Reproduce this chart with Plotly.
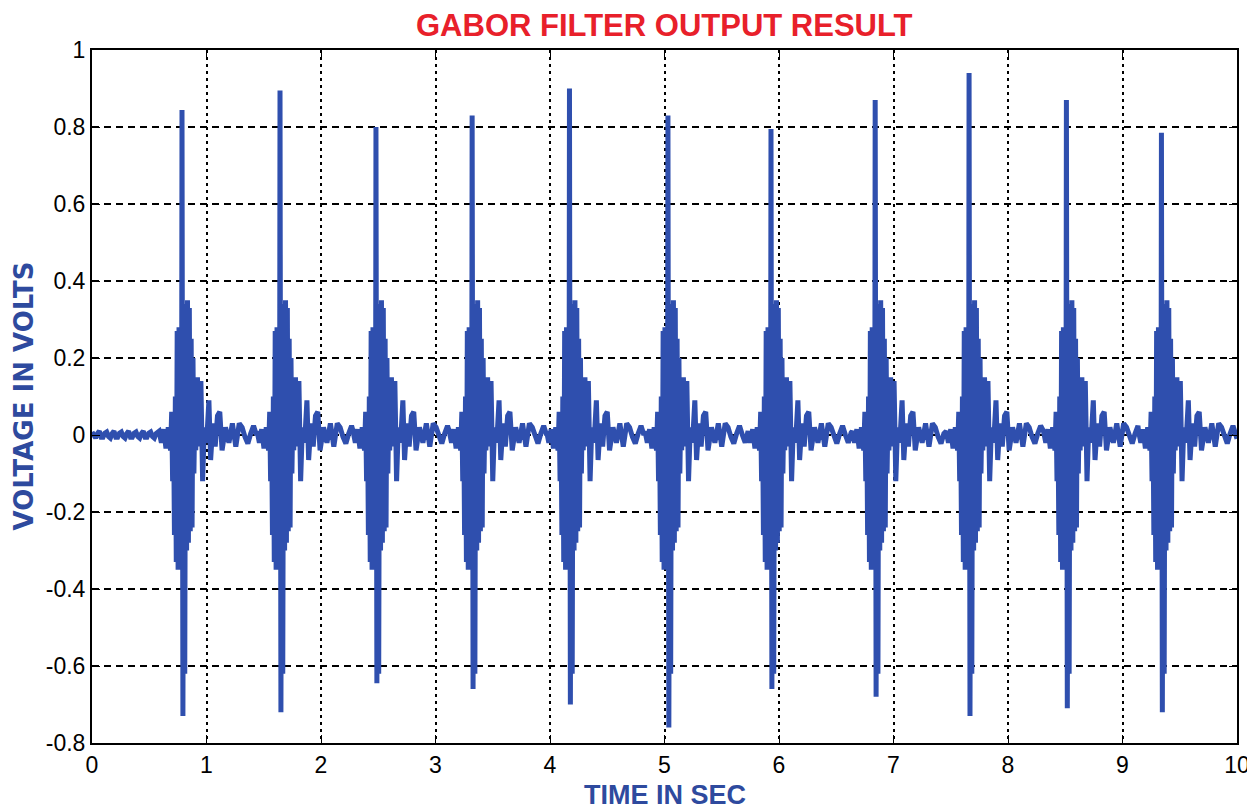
import plotly.graph_objects as go

# Main spike of each beat
beat_times = [0.786, 1.642, 2.48, 3.32, 4.17, 5.03, 5.93, 6.84, 7.66, 8.51, 9.34]
beat_peaks = [0.844, 0.895, 0.80, 0.83, 0.90, 0.83, 0.795, 0.87, 0.94, 0.87, 0.785]
beat_troughs = [-0.73, -0.72, -0.645, -0.66, -0.70, -0.76, -0.66, -0.68, -0.73, -0.71, -0.72]

# Shape of one burst around its main spike (offset in s, value in V)
burst_offsets = [-0.20, -0.18, -0.16, -0.14, -0.12, -0.10, -0.09, -0.082, -0.074, -0.066,
                 -0.058, -0.050, -0.042, -0.034, -0.026, -0.018, -0.010, -0.004, 0.000, 0.008,
                 0.016, 0.024, 0.032, 0.040, 0.048, 0.056, 0.064, 0.072, 0.080, 0.088,
                 0.096, 0.104, 0.112, 0.120, 0.135, 0.150, 0.165, 0.180, 0.195, 0.215,
                 0.235, 0.250, 0.270, 0.290, 0.310, 0.330, 0.350, 0.380, 0.410, 0.440,
                 0.470, 0.500]
burst_values = [0.01, -0.02, 0.015, -0.035, 0.02, -0.04, 0.06, -0.12, 0.06, -0.26,
                0.10, -0.33, 0.27, -0.35, 0.28, -0.30, 0.22, -0.20, 0.85, -0.73,
                0.30, -0.62, 0.34, -0.30, 0.35, -0.28, 0.33, -0.25, 0.25, -0.24,
                0.20, -0.10, 0.06, -0.04, 0.15, -0.03, 0.14, -0.12, 0.02, -0.02,
                0.09, -0.065, 0.03, -0.03, 0.05, 0.06, -0.04, 0.02, -0.02, 0.03,
                -0.03, 0.03]
PEAK_IDX, TROUGH_IDX = 18, 19

# Background ripple between bursts
lead_ripple = [0.008, -0.004, -0.008, 0.004, 0.01, -0.006, -0.006, 0.005]
lead_step = 0.016
gap_ripple = [0.02, -0.005, -0.022, 0.004, 0.024, 0.0, -0.02, 0.006]
gap_step = 0.025

# assemble the trace
t_pts, v_pts = [], []
t, k = 0.0, 0
while t < beat_times[0] + burst_offsets[0]:
    t_pts.append(t)
    v_pts.append(lead_ripple[k % len(lead_ripple)])
    t += lead_step
    k += 1

for i, bt in enumerate(beat_times):
    vals = list(burst_values)
    vals[PEAK_IDX] = beat_peaks[i]
    vals[TROUGH_IDX] = beat_troughs[i]
    for off, v in zip(burst_offsets, vals):
        t_pts.append(bt + off)
        v_pts.append(v)
    end = beat_times[i + 1] + burst_offsets[0] if i + 1 < len(beat_times) else 10.0
    t, k = bt + burst_offsets[-1] + gap_step, 0
    while t < end:
        t_pts.append(t)
        v_pts.append(gap_ripple[k % len(gap_ripple)])
        t += gap_step
        k += 1
t_pts.append(10.0)
v_pts.append(-0.01)

LINE = "#2F4FAE"
TICK_FONT = dict(family="Liberation Sans Narrow, Arial Narrow, Liberation Sans, Arial, sans-serif",
                 size=23, color="black")

fig = go.Figure()
fig.add_trace(go.Scatter(x=t_pts, y=v_pts, mode="lines",
                         line=dict(color=LINE, width=5), showlegend=False))

fig.update_xaxes(range=[0, 10], dtick=1, showgrid=True, gridcolor="black", gridwidth=1.5,
                 griddash="3px,4px", showline=True, linecolor="black", linewidth=2,
                 mirror="allticks", ticks="inside", ticklen=8, tickcolor="black",
                 tickfont=TICK_FONT, zeroline=False, automargin=False)
fig.update_yaxes(range=[-0.8, 1], tickvals=[-0.8, -0.6, -0.4, -0.2, 0, 0.2, 0.4, 0.6, 0.8, 1],
                 ticktext=["-0.8", "-0.6", "-0.4", "-0.2", "0", "0.2", "0.4", "0.6", "0.8", "1"],
                 showgrid=True, gridcolor="black", gridwidth=1.5, griddash="7px,5px",
                 showline=True, linecolor="black", linewidth=2, mirror="allticks",
                 ticks="inside", ticklen=8, tickcolor="black", tickfont=TICK_FONT,
                 zeroline=False, automargin=False)

# page body adds an 8px offset, so the figure is sized/margined to land the plot at 92..1237 x 50..743
fig.update_layout(
    width=1247, height=802,
    margin=dict(l=84, r=18, t=42, b=67, autoexpand=False),
    paper_bgcolor="white", plot_bgcolor="white",
    annotations=[
        dict(text="<b>GABOR FILTER OUTPUT RESULT</b>", x=0.5, y=1, xref="paper", yref="paper",
             yanchor="middle", yshift=25, showarrow=False,
             font=dict(family="Liberation Sans, Arial", size=31, color="#E8202A")),
        dict(text="<b>TIME IN SEC</b>", x=0.5, y=0, xref="paper", yref="paper",
             yanchor="middle", yshift=-52, showarrow=False,
             font=dict(family="Liberation Sans, Arial", size=27, color="#2E4A9E")),
        dict(text="<b>VOLTAGE IN VOLTS</b>", x=0, y=0.5, xref="paper", yref="paper",
             xanchor="center", xshift=-69, textangle=-90, showarrow=False,
             font=dict(family="DejaVu Sans", size=26, color="#2E4A9E")),
    ],
)

fig.write_html("out.html")
